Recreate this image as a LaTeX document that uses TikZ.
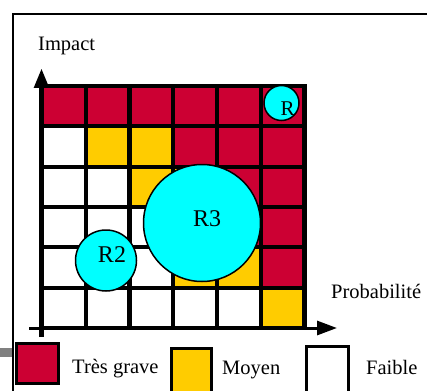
\documentclass[tikz,border=0pt]{standalone}
\usepackage{fontspec}
\setmainfont{Liberation Serif}
\usetikzlibrary{arrows.meta}
\definecolor{grave}{HTML}{CC0033}
\definecolor{moyen}{HTML}{FFCC00}
\definecolor{risk}{HTML}{00FFFF}
\begin{document}
\begin{tikzpicture}[x=1pt,y=-1pt,
  txt/.style={font=\fontsize{20.5}{24}\selectfont, inner sep=0pt, anchor=base west},
  rtxt/.style={font=\fontsize{24}{28}\selectfont, inner sep=0pt, anchor=base},
  riskcircle/.style={circle, draw=black, line width=1.5pt, fill=risk, inner sep=0pt},
  legbox/.style={draw=black, line width=3pt, inner sep=0pt},
  gridline/.style={line width=4.2pt},
  axis/.style={-{Triangle[length=20pt,width=14pt]}}]
\useasboundingbox (0,0) rectangle (427,390);
% frame
\coordinate (fb) at (13,396);
\coordinate (fc) at (13,14);
\coordinate (fr) at (432,14);
\draw[line width=2.5pt] (fb) -- (fc) -- (fr);
\fill[gray] (0,348) rectangle (12,357);
% cells
\foreach \clist [count=\r] in {
  {grave,grave,grave,grave,grave,grave},
  {white,moyen,moyen,grave,grave,grave},
  {white,white,moyen,moyen,grave,grave},
  {white,white,white,moyen,grave,grave},
  {white,white,white,moyen,moyen,grave},
  {white,white,white,white,white,moyen}} {
  \foreach \cc [count=\c] in \clist {
    \fill[\cc] ({42+43.75*(\c-1)},{86+40.333*(\r-1)}) rectangle ({42+43.75*\c},{86+40.333*\r});
  }
}
% grid lines
\foreach \i in {0,...,6} {
  \draw[gridline] ({42+43.75*\i},86) -- ({42+43.75*\i},328);
  \draw[gridline] (40,{86+40.333*\i}) -- (306.6,{86+40.333*\i});
}
% axes
\coordinate (yb) at (41.5,337);
\coordinate (yt) at (41.5,68);
\coordinate (xl) at (29,328);
\coordinate (xr) at (337,328);
\draw[axis, line width=5pt] (yb) -- (yt);
\draw[axis, line width=3pt] (xl) -- (xr);
% axis labels
\node[txt] (impact) at (38,51) {Impact};
\node[txt] (proba) at (331,298) {Probabilité};
% risks
\node[riskcircle, minimum size=35pt] (r1) at (281.5,103) {};
\node[rtxt, font=\fontsize{21}{25}\selectfont] (r1t) at (287.5,116) {R};
\node[riskcircle, minimum size=61pt] (r2) at (106,260.5) {};
\node[rtxt] (r2t) at (112,262) {R2};
\node[riskcircle, minimum size=117pt] (r3) at (202,223) {};
\node[rtxt] (r3t) at (207,226) {R3};
% legend
\node[legbox, fill=grave, minimum width=42pt, minimum height=40pt] (lg) at (37.5,363.5) {};
\node[txt] (lgt) at (72,373) {Très grave};
\node[legbox, fill=moyen, minimum width=40pt, minimum height=48pt] (lm) at (191.5,372.5) {};
\node[txt] (lmt) at (222,374) {Moyen};
\node[legbox, fill=white, minimum width=42pt, minimum height=50pt] (lf) at (327.5,371.5) {};
\node[txt] (lft) at (366,374) {Faible};
\end{tikzpicture}
\end{document}
